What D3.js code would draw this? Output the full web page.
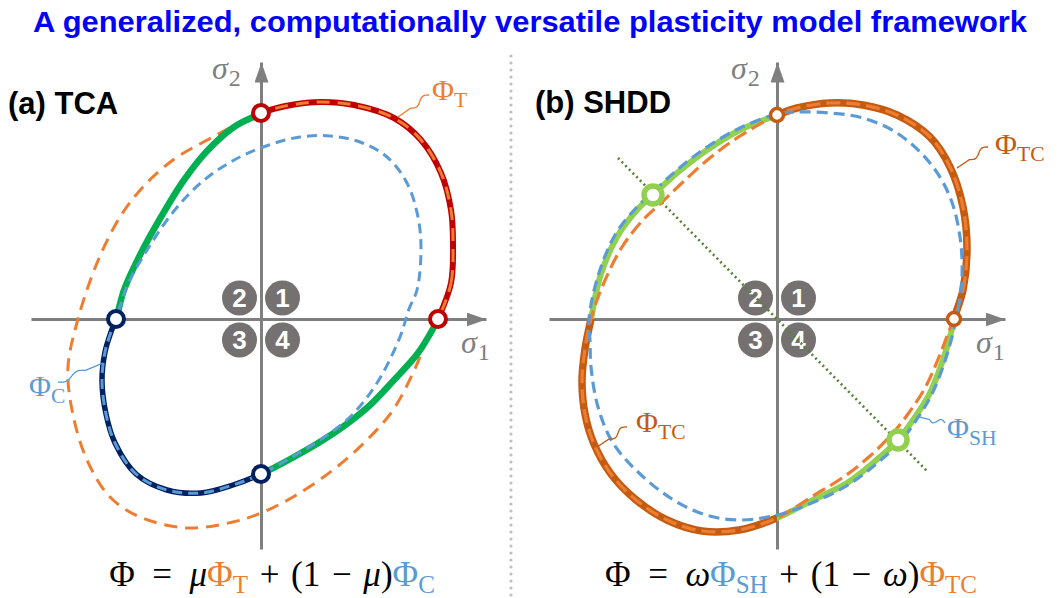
<!DOCTYPE html>
<html>
<head>
<meta charset="utf-8">
<script src="https://cdn.jsdelivr.net/npm/d3@7"></script>
<style>
  body { margin: 0; background: #fff; }
  svg { display: block; }
</style>
</head>
<body>
<svg id="fig" width="1059" height="598"></svg>
<script>
// ---------------------------------------------------------------------------
// Yield loci in the (σ1, σ2) plane, normalised stress units.
// Each branch is listed counter-clockwise and includes its axis end points.
// ---------------------------------------------------------------------------

// (a) TCA — tension locus Φ_T, compression locus Φ_C and the blended locus Φ
const tcaTensionQ1 = [[1.77,0],[1.90,0.36],[1.92,0.76],[1.90,1.09],[1.80,1.46],[1.60,1.79],[1.33,2.01],[0.93,2.14],[0.60,2.17],[0.30,2.14],[0,2.06]];
const tcaTensionRest = [[0,2.06],[-0.50,1.81],[-0.88,1.59],[-1.18,1.32],[-1.41,1.02],[-1.64,0.56],[-1.83,0],[-1.93,-0.48],[-1.89,-0.91],[-1.74,-1.41],[-1.51,-1.78],[-1.21,-1.98],[-0.74,-2.09],[-0.28,-2.03],[0,-1.94],[0.32,-1.78],[0.72,-1.51],[1.06,-1.21],[1.32,-0.91],[1.52,-0.54],[1.69,-0.14],[1.77,0]];
const tcaCompressionQ3 = [[-1.45,0],[-1.50,-0.13],[-1.56,-0.33],[-1.59,-0.62],[-1.55,-0.95],[-1.46,-1.24],[-1.25,-1.55],[-0.94,-1.71],[-0.60,-1.74],[-0.28,-1.66],[0,-1.55]];
const tcaCompressionRest = [[0,-1.55],[0.26,-1.41],[0.59,-1.21],[0.89,-0.98],[1.16,-0.64],[1.39,-0.18],[1.48,0.10],[1.56,0.29],[1.60,0.69],[1.57,1.02],[1.46,1.36],[1.26,1.62],[0.99,1.77],[0.69,1.83],[0.39,1.82],[0.08,1.74],[-0.25,1.60],[-0.58,1.38],[-0.87,1.08],[-1.12,0.72],[-1.33,0.35],[-1.45,0]];
const tcaBlendQ2 = [[0,2.06],[-0.08,2.02],[-0.27,1.92],[-0.53,1.69],[-0.77,1.39],[-1.00,1.02],[-1.20,0.66],[-1.37,0.29],[-1.45,0]];
const tcaBlendQ4 = [[0,-1.55],[0.33,-1.38],[0.73,-1.14],[1.07,-0.88],[1.33,-0.61],[1.57,-0.34],[1.73,-0.08],[1.77,0]];

// (b) SHDD — shear locus Φ_SH, tension/compression locus Φ_TC and the blended locus Φ
const shddShear = [[-1.24,1.24],[1.21,-1.21]];
const shddShearLine = [[-1.59,1.61],[1.51,-1.53]];
const shddTcQ1 = [[1.77,0],[1.86,0.29],[1.90,0.69],[1.86,1.12],[1.73,1.52],[1.53,1.82],[1.20,2.04],[0.86,2.14],[0.53,2.16],[0.20,2.11],[0,2.04]];
const shddTcQ3 = [[-1.86,0],[-1.92,-0.30],[-1.95,-0.62],[-1.92,-0.95],[-1.83,-1.25],[-1.66,-1.55],[-1.42,-1.80],[-1.10,-2.01],[-0.75,-2.12],[-0.38,-2.11],[0,-1.99]];
const shddTcInnerQ2 = [[0,2.04],[-0.37,1.83],[-0.66,1.62],[-0.94,1.37],[-1.17,1.15],[-1.34,0.99],[-1.55,0.72],[-1.74,0.34],[-1.86,0]];
const shddTcInnerQ4 = [[0,-1.99],[0.36,-1.77],[0.68,-1.57],[0.93,-1.37],[1.15,-1.15],[1.31,-0.95],[1.48,-0.69],[1.62,-0.38],[1.72,-0.12],[1.77,0]];
const shddShQ1 = [[1.79,0],[1.81,0.09],[1.85,0.42],[1.83,0.82],[1.73,1.22],[1.53,1.56],[1.20,1.86],[0.86,2.01],[0.53,2.06],[0.20,2.07],[0,2.05]];
const shddShQ2 = [[0,2.05],[-0.37,1.91],[-0.70,1.72],[-1.00,1.49],[-1.25,1.26],[-1.41,1.11],[-1.62,0.84],[-1.79,0.43],[-1.88,0]];
const shddShQ3 = [[-1.88,0],[-1.87,-0.22],[-1.86,-0.48],[-1.79,-0.88],[-1.64,-1.24],[-1.38,-1.54],[-1.05,-1.80],[-0.71,-1.96],[-0.38,-2.01],[0,-1.96]];
const shddShQ4 = [[0,-1.96],[0.37,-1.83],[0.71,-1.66],[0.98,-1.46],[1.23,-1.23],[1.38,-1.03],[1.55,-0.75],[1.68,-0.42],[1.76,-0.14],[1.79,0]];
const shddBlendQ2 = [[0,2.04],[-0.37,1.89],[-0.70,1.69],[-1.00,1.46],shddShear[0],[-1.40,1.09],[-1.60,0.82],[-1.77,0.42],[-1.86,0]];
const shddBlendQ4 = [[0,-1.99],[0.36,-1.81],[0.70,-1.64],[0.96,-1.44],shddShear[1],[1.36,-1.01],[1.53,-0.74],[1.66,-0.41],[1.74,-0.14],[1.77,0]];

// Quadrant numbering (1 = tension–tension, then counter-clockwise)
const quadrantLabels = ["1", "2", "3", "4"];

// ---------------------------------------------------------------------------
const C = {
  axis: "#7f7f7f", quad: "#757171", red: "#c00000", green: "#00b050", navy: "#002060",
  orange: "#ed7d31", blue: "#5b9bd5", brown: "#c55a11", lime: "#92d050", olive: "#548235"
};
const SERIF = "'Liberation Serif','DejaVu Serif',serif";
const SANS = "'Liberation Sans',Arial,sans-serif";

const svg = d3.select("#fig");
const defs = svg.append("defs");
defs.append("marker")
  .attr("id", "arrow").attr("viewBox", "0 0 20 14")
  .attr("refX", 20).attr("refY", 7)
  .attr("markerWidth", 20).attr("markerHeight", 14)
  .attr("markerUnits", "userSpaceOnUse").attr("orient", "auto")
  .append("path").attr("d", "M0,0 L20,7 L0,14 Z").attr("fill", C.axis);

// joins consecutive branches into one closed loop, dropping shared end points
function loop(...parts) {
  const out = [];
  parts.forEach(p => p.forEach(q => {
    const l = out[out.length - 1];
    if (!l || l[0] !== q[0] || l[1] !== q[1]) out.push(q);
  }));
  const f = out[0], l = out[out.length - 1];
  if (f[0] === l[0] && f[1] === l[1]) out.pop();
  return out;
}

// title
svg.append("text")
  .attr("x", 33).attr("y", 32)
  .attr("textLength", 994).attr("lengthAdjust", "spacingAndGlyphs")
  .attr("font-family", "'Liberation Sans Narrow'," + SANS)
  .attr("font-weight", "bold").attr("font-size", 30).attr("fill", "#0000ff")
  .text("A generalized, computationally versatile plasticity model framework");

// panel separator
svg.append("line")
  .attr("x1", 511).attr("x2", 511).attr("y1", 56).attr("y2", 596)
  .attr("stroke", "#bfbfbf").attr("stroke-width", 3.2)
  .attr("stroke-dasharray", "0 7").attr("stroke-linecap", "round");

function makePanel(id, xRange, xDomain) {
  const x = d3.scaleLinear().domain(xDomain).range(xRange);
  const y = d3.scaleLinear().domain([-2.30, 2.57]).range([549, 62]);
  const g = svg.append("g").attr("id", id);
  const x0 = x(0), y0 = y(0);

  // quadrant clip regions
  const quads = { q1: [x0, 0, 1059 - x0, y0], q2: [0, 0, x0, y0], q3: [0, y0, x0, 598 - y0], q4: [x0, y0, 1059 - x0, 598 - y0] };
  Object.entries(quads).forEach(([k, r]) => {
    defs.append("clipPath").attr("id", `${id}-${k}`)
      .append("rect").attr("x", r[0]).attr("y", r[1]).attr("width", r[2]).attr("height", r[3]);
  });

  // axes with arrow heads
  g.append("g").attr("transform", `translate(0,${y0})`)
    .call(d3.axisBottom(x).tickValues([]).tickSizeOuter(0))
    .call(s => s.select(".domain").attr("stroke", C.axis).attr("stroke-width", 3).attr("marker-end", "url(#arrow)"));
  g.append("g").attr("transform", `translate(${x0},0)`)
    .call(d3.axisLeft(y).tickValues([]).tickSizeOuter(0))
    .call(s => s.select(".domain").attr("stroke", C.axis).attr("stroke-width", 3).attr("marker-end", "url(#arrow)"));

  // quadrant badges
  const sign = [[1, -1], [-1, -1], [-1, 1], [1, 1]];
  const badge = g.append("g").selectAll("g").data(quadrantLabels).join("g")
    .attr("transform", (d, i) => `translate(${x0 + sign[i][0] * 21.5},${y0 + sign[i][1] * 21})`);
  badge.append("circle").attr("r", 17.5).attr("fill", C.quad);
  badge.append("text").attr("text-anchor", "middle").attr("dy", "0.36em")
    .attr("font-family", SANS).attr("font-weight", "bold").attr("font-size", 26)
    .attr("fill", "#fff").text(d => d);

  const closed = d3.line().x(d => x(d[0])).y(d => y(d[1])).curve(d3.curveCatmullRomClosed.alpha(0.5));
  const open = d3.line().x(d => x(d[0])).y(d => y(d[1])).curve(d3.curveCatmullRom.alpha(0.5));
  return { x, y, g, id, closed, open };
}

function curve(P, pts, o) {
  const p = P.g.append("path").attr("d", P.closed(pts)).attr("fill", "none")
    .attr("stroke", o.color).attr("stroke-width", o.width)
    .attr("stroke-linejoin", "round");
  if (o.dash) p.attr("stroke-dasharray", o.dash);
  if (o.clip) p.attr("clip-path", `url(#${P.id}-${o.clip})`);
  return p;
}

function markers(P, pts, o) {
  P.g.append("g").selectAll("circle").data(pts).join("circle")
    .attr("cx", d => P.x(d[0])).attr("cy", d => P.y(d[1])).attr("r", o.r)
    .attr("fill", "#fff").attr("stroke", o.color).attr("stroke-width", o.width);
}

// subscripted symbol label, e.g. Φ_T
function symbol(g, px, py, main, sub, color, size) {
  const t = g.append("text").attr("x", px).attr("y", py)
    .attr("font-family", SERIF).attr("font-size", size || 30).attr("fill", color);
  t.append("tspan").text(main);
  t.append("tspan").attr("font-size", (size || 30) * 0.72).attr("dy", 7).text(sub);
}

function leader(g, p0, p1, color) {
  const dx = p1[0] - p0[0], dy = p1[1] - p0[1], L = Math.hypot(dx, dy);
  const nx = -dy / L, ny = dx / L;
  const pts = d3.range(0, 1.0001, 0.04).map(t => {
    const o = t > 0.4 ? 2.6 * Math.sin((t - 0.4) / 0.6 * 2 * Math.PI) : 0;
    return [p0[0] + dx * t + nx * o, p0[1] + dy * t + ny * o];
  });
  g.append("path").attr("d", d3.line().curve(d3.curveBasis)(pts))
    .attr("fill", "none").attr("stroke", color).attr("stroke-width", 1.3);
}

function axisLabel(g, px, py, sub) {
  const t = g.append("text").attr("x", px).attr("y", py)
    .attr("font-family", SERIF).attr("font-size", 32).attr("fill", C.axis);
  t.append("tspan").attr("font-style", "italic").text("σ");
  t.append("tspan").attr("font-size", 24).attr("dx", 1).attr("dy", 7).text(sub);
}

function equation(g, cx, py, parts) {
  const t = g.append("text").attr("x", cx).attr("y", py).attr("text-anchor", "middle")
    .attr("font-family", SERIF).attr("font-size", 35);
  let down = false;
  parts.forEach(p => {
    const s = t.append("tspan").attr("fill", p.c || "#000").text(p.t);
    if (p.i) s.attr("font-style", "italic");
    if (p.sub) { s.attr("font-size", 25).attr("dy", 7); down = true; }
    else if (down) { s.attr("dy", -7); down = false; }
  });
}

// ---------------------------------------------------------------------------
// (a) TCA
{
  const P = makePanel("tca", [31, 486], [-2.30, 2.25]);
  const phiT = loop(tcaTensionQ1, tcaTensionRest);
  const phiC = loop(tcaCompressionQ3, tcaCompressionRest);
  const phi = loop(tcaTensionQ1, tcaBlendQ2, tcaCompressionQ3, tcaBlendQ4);

  curve(P, phiT, { color: C.orange, width: 3, dash: "13 8" });
  curve(P, phi, { color: C.red, width: 6, clip: "q1" });
  curve(P, phi, { color: C.green, width: 6.5, clip: "q2" });
  curve(P, phi, { color: C.navy, width: 5.5, clip: "q3" });
  curve(P, phi, { color: C.green, width: 6.5, clip: "q4" });
  curve(P, phiT, { color: C.orange, width: 3, dash: "13 8", clip: "q1" });
  curve(P, phiC, { color: C.blue, width: 3, dash: "10 6" });

  markers(P, [tcaTensionQ1[tcaTensionQ1.length - 1], tcaTensionQ1[0]], { color: C.red, r: 8, width: 4 });
  markers(P, [tcaCompressionQ3[0], tcaCompressionQ3[tcaCompressionQ3.length - 1]], { color: C.navy, r: 8, width: 4 });

  P.g.append("text").attr("x", 8).attr("y", 114).attr("font-family", SANS)
    .attr("font-weight", "bold").attr("font-size", 31).text("(a) TCA");
  axisLabel(P.g, 212, 79, "2");
  axisLabel(P.g, 461, 353, "1");

  leader(P.g, [398, 117], [429, 95], C.orange);
  symbol(P.g, 432, 100, "Φ", "T", C.orange);
  leader(P.g, [103, 363], [58, 382], C.blue);
  symbol(P.g, 29, 396, "Φ", "C", C.blue);

  equation(P.g, 272, 586, [
    { t: "Φ\u2002=\u2002" }, { t: "μ", i: true }, { t: "Φ", c: C.orange }, { t: "T", c: C.orange, sub: true },
    { t: "\u2004+\u2004(1\u2004−\u2004" }, { t: "μ", i: true }, { t: ")" }, { t: "Φ", c: C.blue }, { t: "C", c: C.blue, sub: true }
  ]);
}

// (b) SHDD
{
  const P = makePanel("shdd", [549, 1005], [-2.28, 2.28]);
  const phiTC = loop(shddTcQ1, shddTcInnerQ2, shddTcQ3, shddTcInnerQ4);
  const phiSH = loop(shddShQ1, shddShQ2, shddShQ3, shddShQ4);
  const phi = loop(shddTcQ1, shddBlendQ2, shddTcQ3, shddBlendQ4);

  P.g.append("path").attr("d", P.open(shddShearLine)).attr("fill", "none")
    .attr("stroke", C.olive).attr("stroke-width", 2.6).attr("stroke-dasharray", "2 3.2");

  curve(P, phi, { color: C.brown, width: 7.5, clip: "q1" });
  curve(P, phi, { color: C.lime, width: 6, clip: "q2" });
  curve(P, phi, { color: C.brown, width: 7.5, clip: "q3" });
  curve(P, phi, { color: C.lime, width: 6, clip: "q4" });
  curve(P, phiTC, { color: C.orange, width: 3.2, dash: "14 6" });
  curve(P, phiSH, { color: C.blue, width: 3.2, dash: "11 6" });

  markers(P, [shddTcQ1[shddTcQ1.length - 1], shddTcQ1[0]], { color: C.brown, r: 6.5, width: 3.5 });
  markers(P, shddShear, { color: C.lime, r: 9, width: 5.5 });

  P.g.append("text").attr("x", 535).attr("y", 113).attr("font-family", SANS)
    .attr("font-weight", "bold").attr("font-size", 31).text("(b) SHDD");
  axisLabel(P.g, 731, 79, "2");
  axisLabel(P.g, 976, 353, "1");

  leader(P.g, [957, 168], [988, 147], C.brown);
  symbol(P.g, 995, 154, "Φ", "TC", C.brown);
  leader(P.g, [597, 447], [627, 427], C.brown);
  symbol(P.g, 636, 432, "Φ", "TC", C.brown);
  leader(P.g, [919, 417], [945, 423], C.blue);
  symbol(P.g, 947, 438, "Φ", "SH", C.blue);

  equation(P.g, 791, 586, [
    { t: "Φ\u2002=\u2002" }, { t: "ω", i: true }, { t: "Φ", c: C.blue }, { t: "SH", c: C.blue, sub: true },
    { t: "\u2004+\u2004(1\u2004−\u2004" }, { t: "ω", i: true }, { t: ")" }, { t: "Φ", c: C.orange }, { t: "TC", c: C.orange, sub: true }
  ]);
}
</script>
</body>
</html>
